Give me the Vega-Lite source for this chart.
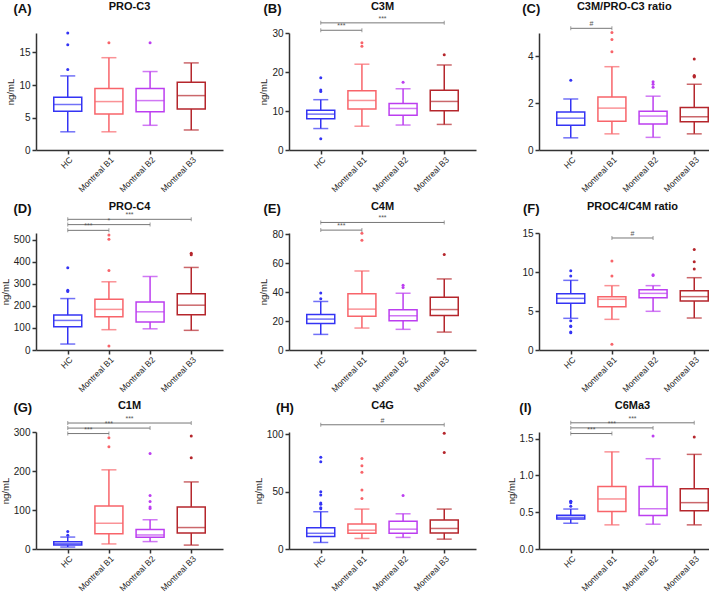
{
"$schema":"https://vega.github.io/schema/vega-lite/v6.json",
"background":"white",
"padding":{"left":0,"top":0,"right":0,"bottom":0},
"config":{"view":{"stroke":null},"range":{"category":["#3434f4","#f8646a","#bc3ef0","#b5262c"]},
"axis":{"grid":false,"labelOverlap":false,"labelFlush":false,"domainColor":"#333","domainWidth":1.5,"tickColor":"#333","tickWidth":1.5,"tickSize":4,"labelColor":"#222","labelFont":"Liberation Sans","labelFontSize":10,"labelPadding":2,"titleFont":"Liberation Sans","titleFontSize":9.5,"titleFontWeight":"normal","titleColor":"#222","titlePadding":3},
"text":{"font":"Liberation Sans"}},
"datasets":{
"box":[
{"p":"A","g":"HC","i":1,"lo":2.8,"q1":5.96,"med":7.0,"q3":8.1,"hi":11.4},
{"p":"A","g":"Montreal B1","i":2,"lo":2.8,"q1":5.55,"med":7.45,"q3":9.45,"hi":14.2},
{"p":"A","g":"Montreal B2","i":3,"lo":3.8,"q1":5.9,"med":7.6,"q3":9.45,"hi":12.07},
{"p":"A","g":"Montreal B3","i":4,"lo":3.08,"q1":6.32,"med":8.37,"q3":10.43,"hi":13.4},
{"p":"B","g":"HC","i":1,"lo":5.5,"q1":8.0,"med":9.2,"q3":10.2,"hi":12.9},
{"p":"B","g":"Montreal B1","i":2,"lo":6.1,"q1":10.5,"med":12.7,"q3":15.2,"hi":22.0},
{"p":"B","g":"Montreal B2","i":3,"lo":6.4,"q1":8.9,"med":10.65,"q3":11.9,"hi":15.7},
{"p":"B","g":"Montreal B3","i":4,"lo":6.56,"q1":10.06,"med":12.45,"q3":15.35,"hi":21.8},
{"p":"C","g":"HC","i":1,"lo":0.52,"q1":1.06,"med":1.36,"q3":1.62,"hi":2.18},
{"p":"C","g":"Montreal B1","i":2,"lo":0.69,"q1":1.23,"med":1.79,"q3":2.26,"hi":3.56},
{"p":"C","g":"Montreal B2","i":3,"lo":0.54,"q1":1.11,"med":1.45,"q3":1.66,"hi":2.3},
{"p":"C","g":"Montreal B3","i":4,"lo":0.69,"q1":1.21,"med":1.42,"q3":1.82,"hi":2.81},
{"p":"D","g":"HC","i":1,"lo":27,"q1":105,"med":134,"q3":158,"hi":233},
{"p":"D","g":"Montreal B1","i":2,"lo":92,"q1":151,"med":184,"q3":230,"hi":309},
{"p":"D","g":"Montreal B2","i":3,"lo":96,"q1":127,"med":173,"q3":218,"hi":333},
{"p":"D","g":"Montreal B3","i":4,"lo":89,"q1":160,"med":203,"q3":255,"hi":374},
{"p":"E","g":"HC","i":1,"lo":10.8,"q1":18.4,"med":21.4,"q3":24.6,"hi":33.6},
{"p":"E","g":"Montreal B1","i":2,"lo":15.2,"q1":23.4,"med":28.3,"q3":38.9,"hi":54.7},
{"p":"E","g":"Montreal B2","i":3,"lo":14.3,"q1":20.2,"med":23.7,"q3":27.8,"hi":39.3},
{"p":"E","g":"Montreal B3","i":4,"lo":12.4,"q1":23.9,"med":28.0,"q3":36.6,"hi":49.2},
{"p":"F","g":"HC","i":1,"lo":4.06,"q1":5.98,"med":6.62,"q3":7.22,"hi":8.93},
{"p":"F","g":"Montreal B1","i":2,"lo":3.93,"q1":5.56,"med":6.5,"q3":6.84,"hi":8.25},
{"p":"F","g":"Montreal B2","i":3,"lo":4.96,"q1":6.71,"med":7.26,"q3":7.74,"hi":8.25},
{"p":"F","g":"Montreal B3","i":4,"lo":4.1,"q1":6.28,"med":6.84,"q3":7.6,"hi":9.27},
{"p":"G","g":"HC","i":1,"lo":5,"q1":10.2,"med":13.6,"q3":18.7,"hi":30.6},
{"p":"G","g":"Montreal B1","i":2,"lo":13,"q1":39,"med":66,"q3":110,"hi":203},
{"p":"G","g":"Montreal B2","i":3,"lo":19,"q1":30,"med":36,"q3":50,"hi":75},
{"p":"G","g":"Montreal B3","i":4,"lo":10,"q1":41,"med":55,"q3":108,"hi":172},
{"p":"H","g":"HC","i":1,"lo":5.7,"q1":11,"med":13.7,"q3":18.5,"hi":32.5},
{"p":"H","g":"Montreal B1","i":2,"lo":9.2,"q1":13.7,"med":16.4,"q3":21.7,"hi":34.8},
{"p":"H","g":"Montreal B2","i":3,"lo":10.1,"q1":13.7,"med":17.3,"q3":24.1,"hi":30.7},
{"p":"H","g":"Montreal B3","i":4,"lo":8.6,"q1":14,"med":17.9,"q3":25.3,"hi":34.8},
{"p":"I","g":"HC","i":1,"lo":0.35,"q1":0.406,"med":0.43,"q3":0.46,"hi":0.543},
{"p":"I","g":"Montreal B1","i":2,"lo":0.328,"q1":0.51,"med":0.68,"q3":0.848,"hi":1.32},
{"p":"I","g":"Montreal B2","i":3,"lo":0.337,"q1":0.456,"med":0.547,"q3":0.848,"hi":1.227},
{"p":"I","g":"Montreal B3","i":4,"lo":0.328,"q1":0.52,"med":0.63,"q3":0.82,"hi":1.286}
],
"out":[
{"p":"A","g":"HC","i":1,"v":18.0},{"p":"A","g":"HC","i":1,"v":16.2},{"p":"A","g":"HC","i":1,"v":12.4},
{"p":"A","g":"Montreal B1","i":2,"v":16.5},{"p":"A","g":"Montreal B2","i":3,"v":16.5},
{"p":"B","g":"HC","i":1,"v":18.5},{"p":"B","g":"HC","i":1,"v":15.4},{"p":"B","g":"HC","i":1,"v":15.0},{"p":"B","g":"HC","i":1,"v":2.9},
{"p":"B","g":"Montreal B1","i":2,"v":27.5},{"p":"B","g":"Montreal B1","i":2,"v":26.6},{"p":"B","g":"Montreal B2","i":3,"v":17.4},{"p":"B","g":"Montreal B3","i":4,"v":24.4},
{"p":"C","g":"HC","i":1,"v":2.98},{"p":"C","g":"Montreal B1","i":2,"v":5.02},{"p":"C","g":"Montreal B1","i":2,"v":4.72},{"p":"C","g":"Montreal B1","i":2,"v":4.2},
{"p":"C","g":"Montreal B2","i":3,"v":2.92},{"p":"C","g":"Montreal B2","i":3,"v":2.81},{"p":"C","g":"Montreal B2","i":3,"v":2.68},
{"p":"C","g":"Montreal B3","i":4,"v":3.89},{"p":"C","g":"Montreal B3","i":4,"v":3.18},{"p":"C","g":"Montreal B3","i":4,"v":3.15},{"p":"C","g":"Montreal B3","i":4,"v":3.12},
{"p":"D","g":"HC","i":1,"v":373},{"p":"D","g":"HC","i":1,"v":271},{"p":"D","g":"HC","i":1,"v":265},
{"p":"D","g":"Montreal B1","i":2,"v":521},{"p":"D","g":"Montreal B1","i":2,"v":502},{"p":"D","g":"Montreal B1","i":2,"v":360},{"p":"D","g":"Montreal B1","i":2,"v":18},
{"p":"D","g":"Montreal B3","i":4,"v":432},{"p":"D","g":"Montreal B3","i":4,"v":438},
{"p":"E","g":"HC","i":1,"v":39.5},{"p":"E","g":"HC","i":1,"v":35.4},{"p":"E","g":"Montreal B1","i":2,"v":80.9},{"p":"E","g":"Montreal B1","i":2,"v":75.9},
{"p":"E","g":"Montreal B2","i":3,"v":44.8},{"p":"E","g":"Montreal B2","i":3,"v":43.2},{"p":"E","g":"Montreal B3","i":4,"v":66.2},
{"p":"F","g":"HC","i":1,"v":10.17},{"p":"F","g":"HC","i":1,"v":9.49},{"p":"F","g":"HC","i":1,"v":3.76},{"p":"F","g":"HC","i":1,"v":3.08},{"p":"F","g":"HC","i":1,"v":3.0},{"p":"F","g":"HC","i":1,"v":2.3},{"p":"F","g":"HC","i":1,"v":2.2},
{"p":"F","g":"Montreal B1","i":2,"v":11.4},{"p":"F","g":"Montreal B1","i":2,"v":9.49},{"p":"F","g":"Montreal B1","i":2,"v":0.73},
{"p":"F","g":"Montreal B2","i":3,"v":9.66},{"p":"F","g":"Montreal B2","i":3,"v":9.55},
{"p":"F","g":"Montreal B3","i":4,"v":12.9},{"p":"F","g":"Montreal B3","i":4,"v":11.3},{"p":"F","g":"Montreal B3","i":4,"v":10.4},
{"p":"G","g":"HC","i":1,"v":45},{"p":"G","g":"HC","i":1,"v":35},{"p":"G","g":"Montreal B1","i":2,"v":285},{"p":"G","g":"Montreal B1","i":2,"v":262},
{"p":"G","g":"Montreal B2","i":3,"v":245},{"p":"G","g":"Montreal B2","i":3,"v":137},{"p":"G","g":"Montreal B2","i":3,"v":122},{"p":"G","g":"Montreal B2","i":3,"v":108},{"p":"G","g":"Montreal B2","i":3,"v":104},
{"p":"G","g":"Montreal B3","i":4,"v":290},{"p":"G","g":"Montreal B3","i":4,"v":234},
{"p":"H","g":"HC","i":1,"v":80},{"p":"H","g":"HC","i":1,"v":76},{"p":"H","g":"HC","i":1,"v":50},{"p":"H","g":"HC","i":1,"v":47},{"p":"H","g":"HC","i":1,"v":40},{"p":"H","g":"HC","i":1,"v":39},{"p":"H","g":"HC","i":1,"v":36},{"p":"H","g":"HC","i":1,"v":35},
{"p":"H","g":"Montreal B1","i":2,"v":78.9},{"p":"H","g":"Montreal B1","i":2,"v":72.6},{"p":"H","g":"Montreal B1","i":2,"v":67},{"p":"H","g":"Montreal B1","i":2,"v":51.5},{"p":"H","g":"Montreal B1","i":2,"v":44},
{"p":"H","g":"Montreal B2","i":3,"v":46.7},{"p":"H","g":"Montreal B3","i":4,"v":100.9},{"p":"H","g":"Montreal B3","i":4,"v":84.2},
{"p":"I","g":"HC","i":1,"v":0.65},{"p":"I","g":"HC","i":1,"v":0.645},{"p":"I","g":"HC","i":1,"v":0.63},{"p":"I","g":"HC","i":1,"v":0.58},
{"p":"I","g":"Montreal B2","i":3,"v":1.537},{"p":"I","g":"Montreal B3","i":4,"v":1.523}
],
"sig":[
{"p":"B","a":1,"b":2,"y":30.7,"t":"***"},{"p":"B","a":1,"b":4,"y":32.6,"t":"***"},
{"p":"C","a":1,"b":2,"y":5.2,"t":"#"},
{"p":"D","a":1,"b":2,"y":542,"t":"***"},{"p":"D","a":1,"b":3,"y":568,"t":"*"},{"p":"D","a":1,"b":4,"y":592,"t":"***"},
{"p":"E","a":1,"b":2,"y":83,"t":"***"},{"p":"E","a":1,"b":4,"y":88.3,"t":"***"},
{"p":"F","a":2,"b":3,"y":14.36,"t":"#"},
{"p":"G","a":1,"b":2,"y":296,"t":"***"},{"p":"G","a":1,"b":3,"y":310,"t":"***"},{"p":"G","a":1,"b":4,"y":323,"t":"***"},
{"p":"H","a":1,"b":4,"y":108.3,"t":"#"},
{"p":"I","a":1,"b":2,"y":1.569,"t":"***"},{"p":"I","a":1,"b":3,"y":1.646,"t":"***"},{"p":"I","a":1,"b":4,"y":1.715,"t":"***"}
]
},
"columns":3,
"spacing":{"column":30,"row":6},
"concat":[
{"width":187,"height":117,"resolve":{"axis":{"x":"independent","y":"independent"}},"layer":[
{"data":{"name":"box"},"transform":[{"filter":"datum.p==='A'"}],"mark":{"type":"rule","strokeWidth":1.5},"encoding":{"x":{"field":"i","type":"quantitative","scale":{"domain":[0.35,4.65],"nice":false,"zero":false},"axis":{"values":[1,2,3,4],"labelExpr":"['','HC','Montreal B1','Montreal B2','Montreal B3'][datum.value]","labelAngle":-45,"labelFontSize":8.5,"labelPadding":1,"title":null}},"y":{"field":"lo","type":"quantitative","scale":{"domain":[0,18],"nice":false,"zero":false},"axis":{"values":[0,5,10,15],"title":"ng/mL"}},"y2":{"field":"hi"},"color":{"field":"g","type":"nominal","legend":null}}},
{"data":{"name":"box"},"transform":[{"filter":"datum.p==='A'"}],"mark":{"type":"bar","orient":"vertical","width":28,"fill":"white","strokeWidth":1.5},"encoding":{"x":{"field":"i","type":"quantitative","axis":null},"y":{"field":"q1","type":"quantitative","axis":null},"y2":{"field":"q3"},"stroke":{"field":"g","type":"nominal","legend":null}}},
{"data":{"name":"box"},"transform":[{"filter":"datum.p==='A'"}],"mark":{"type":"tick","orient":"horizontal","size":28,"thickness":1.5},"encoding":{"x":{"field":"i","type":"quantitative","axis":null},"y":{"field":"med","type":"quantitative","axis":null},"color":{"field":"g","type":"nominal","legend":null}}},
{"data":{"name":"box"},"transform":[{"filter":"datum.p==='A'"}],"mark":{"type":"tick","orient":"horizontal","size":15,"thickness":1.5},"encoding":{"x":{"field":"i","type":"quantitative","axis":null},"y":{"field":"lo","type":"quantitative","axis":null},"color":{"field":"g","type":"nominal","legend":null}}},
{"data":{"name":"box"},"transform":[{"filter":"datum.p==='A'"}],"mark":{"type":"tick","orient":"horizontal","size":15,"thickness":1.5},"encoding":{"x":{"field":"i","type":"quantitative","axis":null},"y":{"field":"hi","type":"quantitative","axis":null},"color":{"field":"g","type":"nominal","legend":null}}},
{"data":{"name":"out"},"transform":[{"filter":"datum.p==='A'"}],"mark":{"type":"circle","size":9,"opacity":1},"encoding":{"x":{"field":"i","type":"quantitative","axis":null},"y":{"field":"v","type":"quantitative","axis":null},"color":{"field":"g","type":"nominal","legend":null}}},
{"data":{"values":[{}]},"mark":{"type":"text","text":"PRO-C3","fontSize":11,"fontWeight":"bold","color":"#111"},"encoding":{"x":{"datum":2.5,"axis":null},"y":{"datum":22.0,"axis":null}}},
{"data":{"values":[{}]},"mark":{"type":"text","text":"(A)","fontSize":13,"fontWeight":"bold","color":"#111","align":"left"},"encoding":{"x":{"datum":-0.32,"axis":null},"y":{"datum":21.7,"axis":null}}}
]},
{"width":187,"height":117,"resolve":{"axis":{"x":"independent","y":"independent"}},"layer":[
{"data":{"name":"box"},"transform":[{"filter":"datum.p==='B'"}],"mark":{"type":"rule","strokeWidth":1.5},"encoding":{"x":{"field":"i","type":"quantitative","scale":{"domain":[0.35,4.65],"nice":false,"zero":false},"axis":{"values":[1,2,3,4],"labelExpr":"['','HC','Montreal B1','Montreal B2','Montreal B3'][datum.value]","labelAngle":-45,"labelFontSize":8.5,"labelPadding":1,"title":null}},"y":{"field":"lo","type":"quantitative","scale":{"domain":[0,30],"nice":false,"zero":false},"axis":{"values":[0,10,20,30],"title":"ng/mL"}},"y2":{"field":"hi"},"color":{"field":"g","type":"nominal","legend":null}}},
{"data":{"name":"box"},"transform":[{"filter":"datum.p==='B'"}],"mark":{"type":"bar","orient":"vertical","width":28,"fill":"white","strokeWidth":1.5},"encoding":{"x":{"field":"i","type":"quantitative","axis":null},"y":{"field":"q1","type":"quantitative","axis":null},"y2":{"field":"q3"},"stroke":{"field":"g","type":"nominal","legend":null}}},
{"data":{"name":"box"},"transform":[{"filter":"datum.p==='B'"}],"mark":{"type":"tick","orient":"horizontal","size":28,"thickness":1.5},"encoding":{"x":{"field":"i","type":"quantitative","axis":null},"y":{"field":"med","type":"quantitative","axis":null},"color":{"field":"g","type":"nominal","legend":null}}},
{"data":{"name":"box"},"transform":[{"filter":"datum.p==='B'"}],"mark":{"type":"tick","orient":"horizontal","size":15,"thickness":1.5},"encoding":{"x":{"field":"i","type":"quantitative","axis":null},"y":{"field":"lo","type":"quantitative","axis":null},"color":{"field":"g","type":"nominal","legend":null}}},
{"data":{"name":"box"},"transform":[{"filter":"datum.p==='B'"}],"mark":{"type":"tick","orient":"horizontal","size":15,"thickness":1.5},"encoding":{"x":{"field":"i","type":"quantitative","axis":null},"y":{"field":"hi","type":"quantitative","axis":null},"color":{"field":"g","type":"nominal","legend":null}}},
{"data":{"name":"out"},"transform":[{"filter":"datum.p==='B'"}],"mark":{"type":"circle","size":9,"opacity":1},"encoding":{"x":{"field":"i","type":"quantitative","axis":null},"y":{"field":"v","type":"quantitative","axis":null},"color":{"field":"g","type":"nominal","legend":null}}},
{"data":{"name":"sig"},"transform":[{"filter":"datum.p==='B'"}],"mark":{"type":"rule","color":"#777","strokeWidth":1},"encoding":{"x":{"field":"a","type":"quantitative","axis":null},"x2":{"field":"b"},"y":{"field":"y","type":"quantitative","axis":null}}},
{"data":{"name":"sig"},"transform":[{"filter":"datum.p==='B'"}],"mark":{"type":"tick","orient":"vertical","size":4,"thickness":1,"color":"#777"},"encoding":{"x":{"field":"a","type":"quantitative","axis":null},"y":{"field":"y","type":"quantitative","axis":null}}},
{"data":{"name":"sig"},"transform":[{"filter":"datum.p==='B'"}],"mark":{"type":"tick","orient":"vertical","size":4,"thickness":1,"color":"#777"},"encoding":{"x":{"field":"b","type":"quantitative","axis":null},"y":{"field":"y","type":"quantitative","axis":null}}},
{"data":{"name":"sig"},"transform":[{"filter":"datum.p==='B'"},{"calculate":"(datum.a+datum.b)/2","as":"m"}],"mark":{"type":"text","fontSize":7,"color":"#555","baseline":"bottom","dy":-1},"encoding":{"x":{"field":"m","type":"quantitative","axis":null},"y":{"field":"y","type":"quantitative","axis":null},"text":{"field":"t"}}},
{"data":{"values":[{}]},"mark":{"type":"text","text":"C3M","fontSize":11,"fontWeight":"bold","color":"#111"},"encoding":{"x":{"datum":2.5,"axis":null},"y":{"datum":36.66,"axis":null}}},
{"data":{"values":[{}]},"mark":{"type":"text","text":"(B)","fontSize":13,"fontWeight":"bold","color":"#111","align":"left"},"encoding":{"x":{"datum":-0.39,"axis":null},"y":{"datum":36.15,"axis":null}}}
]},
{"width":187,"height":117,"resolve":{"axis":{"x":"independent","y":"independent"}},"layer":[
{"data":{"name":"box"},"transform":[{"filter":"datum.p==='C'"}],"mark":{"type":"rule","strokeWidth":1.5},"encoding":{"x":{"field":"i","type":"quantitative","scale":{"domain":[0.35,4.65],"nice":false,"zero":false},"axis":{"values":[1,2,3,4],"labelExpr":"['','HC','Montreal B1','Montreal B2','Montreal B3'][datum.value]","labelAngle":-45,"labelFontSize":8.5,"labelPadding":1,"title":null}},"y":{"field":"lo","type":"quantitative","scale":{"domain":[0,5],"nice":false,"zero":false},"axis":{"values":[0,2,4],"title":null}},"y2":{"field":"hi"},"color":{"field":"g","type":"nominal","legend":null}}},
{"data":{"name":"box"},"transform":[{"filter":"datum.p==='C'"}],"mark":{"type":"bar","orient":"vertical","width":28,"fill":"white","strokeWidth":1.5},"encoding":{"x":{"field":"i","type":"quantitative","axis":null},"y":{"field":"q1","type":"quantitative","axis":null},"y2":{"field":"q3"},"stroke":{"field":"g","type":"nominal","legend":null}}},
{"data":{"name":"box"},"transform":[{"filter":"datum.p==='C'"}],"mark":{"type":"tick","orient":"horizontal","size":28,"thickness":1.5},"encoding":{"x":{"field":"i","type":"quantitative","axis":null},"y":{"field":"med","type":"quantitative","axis":null},"color":{"field":"g","type":"nominal","legend":null}}},
{"data":{"name":"box"},"transform":[{"filter":"datum.p==='C'"}],"mark":{"type":"tick","orient":"horizontal","size":15,"thickness":1.5},"encoding":{"x":{"field":"i","type":"quantitative","axis":null},"y":{"field":"lo","type":"quantitative","axis":null},"color":{"field":"g","type":"nominal","legend":null}}},
{"data":{"name":"box"},"transform":[{"filter":"datum.p==='C'"}],"mark":{"type":"tick","orient":"horizontal","size":15,"thickness":1.5},"encoding":{"x":{"field":"i","type":"quantitative","axis":null},"y":{"field":"hi","type":"quantitative","axis":null},"color":{"field":"g","type":"nominal","legend":null}}},
{"data":{"name":"out"},"transform":[{"filter":"datum.p==='C'"}],"mark":{"type":"circle","size":9,"opacity":1},"encoding":{"x":{"field":"i","type":"quantitative","axis":null},"y":{"field":"v","type":"quantitative","axis":null},"color":{"field":"g","type":"nominal","legend":null}}},
{"data":{"name":"sig"},"transform":[{"filter":"datum.p==='C'"}],"mark":{"type":"rule","color":"#777","strokeWidth":1},"encoding":{"x":{"field":"a","type":"quantitative","axis":null},"x2":{"field":"b"},"y":{"field":"y","type":"quantitative","axis":null}}},
{"data":{"name":"sig"},"transform":[{"filter":"datum.p==='C'"}],"mark":{"type":"tick","orient":"vertical","size":4,"thickness":1,"color":"#777"},"encoding":{"x":{"field":"a","type":"quantitative","axis":null},"y":{"field":"y","type":"quantitative","axis":null}}},
{"data":{"name":"sig"},"transform":[{"filter":"datum.p==='C'"}],"mark":{"type":"tick","orient":"vertical","size":4,"thickness":1,"color":"#777"},"encoding":{"x":{"field":"b","type":"quantitative","axis":null},"y":{"field":"y","type":"quantitative","axis":null}}},
{"data":{"name":"sig"},"transform":[{"filter":"datum.p==='C'"},{"calculate":"(datum.a+datum.b)/2","as":"m"}],"mark":{"type":"text","fontSize":7,"color":"#555","baseline":"bottom","dy":-1},"encoding":{"x":{"field":"m","type":"quantitative","axis":null},"y":{"field":"y","type":"quantitative","axis":null},"text":{"field":"t"}}},
{"data":{"values":[{}]},"mark":{"type":"text","text":"C3M/PRO-C3 ratio","fontSize":11,"fontWeight":"bold","color":"#111"},"encoding":{"x":{"datum":2.3,"axis":null},"y":{"datum":6.11,"axis":null}}},
{"data":{"values":[{}]},"mark":{"type":"text","text":"(C)","fontSize":13,"fontWeight":"bold","color":"#111","align":"left"},"encoding":{"x":{"datum":-0.18,"axis":null},"y":{"datum":6.03,"axis":null}}}
]},
{"width":187,"height":117,"resolve":{"axis":{"x":"independent","y":"independent"}},"layer":[
{"data":{"name":"box"},"transform":[{"filter":"datum.p==='D'"}],"mark":{"type":"rule","strokeWidth":1.5},"encoding":{"x":{"field":"i","type":"quantitative","scale":{"domain":[0.35,4.65],"nice":false,"zero":false},"axis":{"values":[1,2,3,4],"labelExpr":"['','HC','Montreal B1','Montreal B2','Montreal B3'][datum.value]","labelAngle":-45,"labelFontSize":8.5,"labelPadding":1,"title":null}},"y":{"field":"lo","type":"quantitative","scale":{"domain":[0,530],"nice":false,"zero":false},"axis":{"values":[0,100,200,300,400,500],"title":"ng/mL"}},"y2":{"field":"hi"},"color":{"field":"g","type":"nominal","legend":null}}},
{"data":{"name":"box"},"transform":[{"filter":"datum.p==='D'"}],"mark":{"type":"bar","orient":"vertical","width":28,"fill":"white","strokeWidth":1.5},"encoding":{"x":{"field":"i","type":"quantitative","axis":null},"y":{"field":"q1","type":"quantitative","axis":null},"y2":{"field":"q3"},"stroke":{"field":"g","type":"nominal","legend":null}}},
{"data":{"name":"box"},"transform":[{"filter":"datum.p==='D'"}],"mark":{"type":"tick","orient":"horizontal","size":28,"thickness":1.5},"encoding":{"x":{"field":"i","type":"quantitative","axis":null},"y":{"field":"med","type":"quantitative","axis":null},"color":{"field":"g","type":"nominal","legend":null}}},
{"data":{"name":"box"},"transform":[{"filter":"datum.p==='D'"}],"mark":{"type":"tick","orient":"horizontal","size":15,"thickness":1.5},"encoding":{"x":{"field":"i","type":"quantitative","axis":null},"y":{"field":"lo","type":"quantitative","axis":null},"color":{"field":"g","type":"nominal","legend":null}}},
{"data":{"name":"box"},"transform":[{"filter":"datum.p==='D'"}],"mark":{"type":"tick","orient":"horizontal","size":15,"thickness":1.5},"encoding":{"x":{"field":"i","type":"quantitative","axis":null},"y":{"field":"hi","type":"quantitative","axis":null},"color":{"field":"g","type":"nominal","legend":null}}},
{"data":{"name":"out"},"transform":[{"filter":"datum.p==='D'"}],"mark":{"type":"circle","size":9,"opacity":1},"encoding":{"x":{"field":"i","type":"quantitative","axis":null},"y":{"field":"v","type":"quantitative","axis":null},"color":{"field":"g","type":"nominal","legend":null}}},
{"data":{"name":"sig"},"transform":[{"filter":"datum.p==='D'"}],"mark":{"type":"rule","color":"#777","strokeWidth":1},"encoding":{"x":{"field":"a","type":"quantitative","axis":null},"x2":{"field":"b"},"y":{"field":"y","type":"quantitative","axis":null}}},
{"data":{"name":"sig"},"transform":[{"filter":"datum.p==='D'"}],"mark":{"type":"tick","orient":"vertical","size":4,"thickness":1,"color":"#777"},"encoding":{"x":{"field":"a","type":"quantitative","axis":null},"y":{"field":"y","type":"quantitative","axis":null}}},
{"data":{"name":"sig"},"transform":[{"filter":"datum.p==='D'"}],"mark":{"type":"tick","orient":"vertical","size":4,"thickness":1,"color":"#777"},"encoding":{"x":{"field":"b","type":"quantitative","axis":null},"y":{"field":"y","type":"quantitative","axis":null}}},
{"data":{"name":"sig"},"transform":[{"filter":"datum.p==='D'"},{"calculate":"(datum.a+datum.b)/2","as":"m"}],"mark":{"type":"text","fontSize":7,"color":"#555","baseline":"bottom","dy":-1},"encoding":{"x":{"field":"m","type":"quantitative","axis":null},"y":{"field":"y","type":"quantitative","axis":null},"text":{"field":"t"}}},
{"data":{"values":[{}]},"mark":{"type":"text","text":"PRO-C4","fontSize":11,"fontWeight":"bold","color":"#111"},"encoding":{"x":{"datum":2.5,"axis":null},"y":{"datum":647.7,"axis":null}}},
{"data":{"values":[{}]},"mark":{"type":"text","text":"(D)","fontSize":13,"fontWeight":"bold","color":"#111","align":"left"},"encoding":{"x":{"datum":-0.32,"axis":null},"y":{"datum":638.7,"axis":null}}}
]},
{"width":187,"height":117,"resolve":{"axis":{"x":"independent","y":"independent"}},"layer":[
{"data":{"name":"box"},"transform":[{"filter":"datum.p==='E'"}],"mark":{"type":"rule","strokeWidth":1.5},"encoding":{"x":{"field":"i","type":"quantitative","scale":{"domain":[0.35,4.65],"nice":false,"zero":false},"axis":{"values":[1,2,3,4],"labelExpr":"['','HC','Montreal B1','Montreal B2','Montreal B3'][datum.value]","labelAngle":-45,"labelFontSize":8.5,"labelPadding":1,"title":null}},"y":{"field":"lo","type":"quantitative","scale":{"domain":[0,81],"nice":false,"zero":false},"axis":{"values":[0,20,40,60,80],"title":"ng/mL"}},"y2":{"field":"hi"},"color":{"field":"g","type":"nominal","legend":null}}},
{"data":{"name":"box"},"transform":[{"filter":"datum.p==='E'"}],"mark":{"type":"bar","orient":"vertical","width":28,"fill":"white","strokeWidth":1.5},"encoding":{"x":{"field":"i","type":"quantitative","axis":null},"y":{"field":"q1","type":"quantitative","axis":null},"y2":{"field":"q3"},"stroke":{"field":"g","type":"nominal","legend":null}}},
{"data":{"name":"box"},"transform":[{"filter":"datum.p==='E'"}],"mark":{"type":"tick","orient":"horizontal","size":28,"thickness":1.5},"encoding":{"x":{"field":"i","type":"quantitative","axis":null},"y":{"field":"med","type":"quantitative","axis":null},"color":{"field":"g","type":"nominal","legend":null}}},
{"data":{"name":"box"},"transform":[{"filter":"datum.p==='E'"}],"mark":{"type":"tick","orient":"horizontal","size":15,"thickness":1.5},"encoding":{"x":{"field":"i","type":"quantitative","axis":null},"y":{"field":"lo","type":"quantitative","axis":null},"color":{"field":"g","type":"nominal","legend":null}}},
{"data":{"name":"box"},"transform":[{"filter":"datum.p==='E'"}],"mark":{"type":"tick","orient":"horizontal","size":15,"thickness":1.5},"encoding":{"x":{"field":"i","type":"quantitative","axis":null},"y":{"field":"hi","type":"quantitative","axis":null},"color":{"field":"g","type":"nominal","legend":null}}},
{"data":{"name":"out"},"transform":[{"filter":"datum.p==='E'"}],"mark":{"type":"circle","size":9,"opacity":1},"encoding":{"x":{"field":"i","type":"quantitative","axis":null},"y":{"field":"v","type":"quantitative","axis":null},"color":{"field":"g","type":"nominal","legend":null}}},
{"data":{"name":"sig"},"transform":[{"filter":"datum.p==='E'"}],"mark":{"type":"rule","color":"#777","strokeWidth":1},"encoding":{"x":{"field":"a","type":"quantitative","axis":null},"x2":{"field":"b"},"y":{"field":"y","type":"quantitative","axis":null}}},
{"data":{"name":"sig"},"transform":[{"filter":"datum.p==='E'"}],"mark":{"type":"tick","orient":"vertical","size":4,"thickness":1,"color":"#777"},"encoding":{"x":{"field":"a","type":"quantitative","axis":null},"y":{"field":"y","type":"quantitative","axis":null}}},
{"data":{"name":"sig"},"transform":[{"filter":"datum.p==='E'"}],"mark":{"type":"tick","orient":"vertical","size":4,"thickness":1,"color":"#777"},"encoding":{"x":{"field":"b","type":"quantitative","axis":null},"y":{"field":"y","type":"quantitative","axis":null}}},
{"data":{"name":"sig"},"transform":[{"filter":"datum.p==='E'"},{"calculate":"(datum.a+datum.b)/2","as":"m"}],"mark":{"type":"text","fontSize":7,"color":"#555","baseline":"bottom","dy":-1},"encoding":{"x":{"field":"m","type":"quantitative","axis":null},"y":{"field":"y","type":"quantitative","axis":null},"text":{"field":"t"}}},
{"data":{"values":[{}]},"mark":{"type":"text","text":"C4M","fontSize":11,"fontWeight":"bold","color":"#111"},"encoding":{"x":{"datum":2.5,"axis":null},"y":{"datum":99.0,"axis":null}}},
{"data":{"values":[{}]},"mark":{"type":"text","text":"(E)","fontSize":13,"fontWeight":"bold","color":"#111","align":"left"},"encoding":{"x":{"datum":-0.39,"axis":null},"y":{"datum":97.6,"axis":null}}}
]},
{"width":187,"height":117,"resolve":{"axis":{"x":"independent","y":"independent"}},"layer":[
{"data":{"name":"box"},"transform":[{"filter":"datum.p==='F'"}],"mark":{"type":"rule","strokeWidth":1.5},"encoding":{"x":{"field":"i","type":"quantitative","scale":{"domain":[0.35,4.65],"nice":false,"zero":false},"axis":{"values":[1,2,3,4],"labelExpr":"['','HC','Montreal B1','Montreal B2','Montreal B3'][datum.value]","labelAngle":-45,"labelFontSize":8.5,"labelPadding":1,"title":null}},"y":{"field":"lo","type":"quantitative","scale":{"domain":[0,15],"nice":false,"zero":false},"axis":{"values":[0,5,10,15],"title":null}},"y2":{"field":"hi"},"color":{"field":"g","type":"nominal","legend":null}}},
{"data":{"name":"box"},"transform":[{"filter":"datum.p==='F'"}],"mark":{"type":"bar","orient":"vertical","width":28,"fill":"white","strokeWidth":1.5},"encoding":{"x":{"field":"i","type":"quantitative","axis":null},"y":{"field":"q1","type":"quantitative","axis":null},"y2":{"field":"q3"},"stroke":{"field":"g","type":"nominal","legend":null}}},
{"data":{"name":"box"},"transform":[{"filter":"datum.p==='F'"}],"mark":{"type":"tick","orient":"horizontal","size":28,"thickness":1.5},"encoding":{"x":{"field":"i","type":"quantitative","axis":null},"y":{"field":"med","type":"quantitative","axis":null},"color":{"field":"g","type":"nominal","legend":null}}},
{"data":{"name":"box"},"transform":[{"filter":"datum.p==='F'"}],"mark":{"type":"tick","orient":"horizontal","size":15,"thickness":1.5},"encoding":{"x":{"field":"i","type":"quantitative","axis":null},"y":{"field":"lo","type":"quantitative","axis":null},"color":{"field":"g","type":"nominal","legend":null}}},
{"data":{"name":"box"},"transform":[{"filter":"datum.p==='F'"}],"mark":{"type":"tick","orient":"horizontal","size":15,"thickness":1.5},"encoding":{"x":{"field":"i","type":"quantitative","axis":null},"y":{"field":"hi","type":"quantitative","axis":null},"color":{"field":"g","type":"nominal","legend":null}}},
{"data":{"name":"out"},"transform":[{"filter":"datum.p==='F'"}],"mark":{"type":"circle","size":9,"opacity":1},"encoding":{"x":{"field":"i","type":"quantitative","axis":null},"y":{"field":"v","type":"quantitative","axis":null},"color":{"field":"g","type":"nominal","legend":null}}},
{"data":{"name":"sig"},"transform":[{"filter":"datum.p==='F'"}],"mark":{"type":"rule","color":"#777","strokeWidth":1},"encoding":{"x":{"field":"a","type":"quantitative","axis":null},"x2":{"field":"b"},"y":{"field":"y","type":"quantitative","axis":null}}},
{"data":{"name":"sig"},"transform":[{"filter":"datum.p==='F'"}],"mark":{"type":"tick","orient":"vertical","size":4,"thickness":1,"color":"#777"},"encoding":{"x":{"field":"a","type":"quantitative","axis":null},"y":{"field":"y","type":"quantitative","axis":null}}},
{"data":{"name":"sig"},"transform":[{"filter":"datum.p==='F'"}],"mark":{"type":"tick","orient":"vertical","size":4,"thickness":1,"color":"#777"},"encoding":{"x":{"field":"b","type":"quantitative","axis":null},"y":{"field":"y","type":"quantitative","axis":null}}},
{"data":{"name":"sig"},"transform":[{"filter":"datum.p==='F'"},{"calculate":"(datum.a+datum.b)/2","as":"m"}],"mark":{"type":"text","fontSize":7,"color":"#555","baseline":"bottom","dy":-1},"encoding":{"x":{"field":"m","type":"quantitative","axis":null},"y":{"field":"y","type":"quantitative","axis":null},"text":{"field":"t"}}},
{"data":{"values":[{}]},"mark":{"type":"text","text":"PROC4/C4M ratio","fontSize":11,"fontWeight":"bold","color":"#111"},"encoding":{"x":{"datum":2.5,"axis":null},"y":{"datum":18.33,"axis":null}}},
{"data":{"values":[{}]},"mark":{"type":"text","text":"(F)","fontSize":13,"fontWeight":"bold","color":"#111","align":"left"},"encoding":{"x":{"datum":-0.16,"axis":null},"y":{"datum":18.08,"axis":null}}}
]},
{"width":187,"height":117,"resolve":{"axis":{"x":"independent","y":"independent"}},"layer":[
{"data":{"name":"box"},"transform":[{"filter":"datum.p==='G'"}],"mark":{"type":"rule","strokeWidth":1.5},"encoding":{"x":{"field":"i","type":"quantitative","scale":{"domain":[0.35,4.65],"nice":false,"zero":false},"axis":{"values":[1,2,3,4],"labelExpr":"['','HC','Montreal B1','Montreal B2','Montreal B3'][datum.value]","labelAngle":-45,"labelFontSize":8.5,"labelPadding":1,"title":null}},"y":{"field":"lo","type":"quantitative","scale":{"domain":[0,300],"nice":false,"zero":false},"axis":{"values":[0,100,200,300],"title":"ng/mL"}},"y2":{"field":"hi"},"color":{"field":"g","type":"nominal","legend":null}}},
{"data":{"name":"box"},"transform":[{"filter":"datum.p==='G'"}],"mark":{"type":"bar","orient":"vertical","width":28,"fill":"white","strokeWidth":1.5},"encoding":{"x":{"field":"i","type":"quantitative","axis":null},"y":{"field":"q1","type":"quantitative","axis":null},"y2":{"field":"q3"},"stroke":{"field":"g","type":"nominal","legend":null}}},
{"data":{"name":"box"},"transform":[{"filter":"datum.p==='G'"}],"mark":{"type":"tick","orient":"horizontal","size":28,"thickness":1.5},"encoding":{"x":{"field":"i","type":"quantitative","axis":null},"y":{"field":"med","type":"quantitative","axis":null},"color":{"field":"g","type":"nominal","legend":null}}},
{"data":{"name":"box"},"transform":[{"filter":"datum.p==='G'"}],"mark":{"type":"tick","orient":"horizontal","size":15,"thickness":1.5},"encoding":{"x":{"field":"i","type":"quantitative","axis":null},"y":{"field":"lo","type":"quantitative","axis":null},"color":{"field":"g","type":"nominal","legend":null}}},
{"data":{"name":"box"},"transform":[{"filter":"datum.p==='G'"}],"mark":{"type":"tick","orient":"horizontal","size":15,"thickness":1.5},"encoding":{"x":{"field":"i","type":"quantitative","axis":null},"y":{"field":"hi","type":"quantitative","axis":null},"color":{"field":"g","type":"nominal","legend":null}}},
{"data":{"name":"out"},"transform":[{"filter":"datum.p==='G'"}],"mark":{"type":"circle","size":9,"opacity":1},"encoding":{"x":{"field":"i","type":"quantitative","axis":null},"y":{"field":"v","type":"quantitative","axis":null},"color":{"field":"g","type":"nominal","legend":null}}},
{"data":{"name":"sig"},"transform":[{"filter":"datum.p==='G'"}],"mark":{"type":"rule","color":"#777","strokeWidth":1},"encoding":{"x":{"field":"a","type":"quantitative","axis":null},"x2":{"field":"b"},"y":{"field":"y","type":"quantitative","axis":null}}},
{"data":{"name":"sig"},"transform":[{"filter":"datum.p==='G'"}],"mark":{"type":"tick","orient":"vertical","size":4,"thickness":1,"color":"#777"},"encoding":{"x":{"field":"a","type":"quantitative","axis":null},"y":{"field":"y","type":"quantitative","axis":null}}},
{"data":{"name":"sig"},"transform":[{"filter":"datum.p==='G'"}],"mark":{"type":"tick","orient":"vertical","size":4,"thickness":1,"color":"#777"},"encoding":{"x":{"field":"b","type":"quantitative","axis":null},"y":{"field":"y","type":"quantitative","axis":null}}},
{"data":{"name":"sig"},"transform":[{"filter":"datum.p==='G'"},{"calculate":"(datum.a+datum.b)/2","as":"m"}],"mark":{"type":"text","fontSize":7,"color":"#555","baseline":"bottom","dy":-1},"encoding":{"x":{"field":"m","type":"quantitative","axis":null},"y":{"field":"y","type":"quantitative","axis":null},"text":{"field":"t"}}},
{"data":{"values":[{}]},"mark":{"type":"text","text":"C1M","fontSize":11,"fontWeight":"bold","color":"#111"},"encoding":{"x":{"datum":2.5,"axis":null},"y":{"datum":366.6,"axis":null}}},
{"data":{"values":[{}]},"mark":{"type":"text","text":"(G)","fontSize":13,"fontWeight":"bold","color":"#111","align":"left"},"encoding":{"x":{"datum":-0.32,"axis":null},"y":{"datum":361.5,"axis":null}}}
]},
{"width":187,"height":117,"resolve":{"axis":{"x":"independent","y":"independent"}},"layer":[
{"data":{"name":"box"},"transform":[{"filter":"datum.p==='H'"}],"mark":{"type":"rule","strokeWidth":1.5},"encoding":{"x":{"field":"i","type":"quantitative","scale":{"domain":[0.35,4.65],"nice":false,"zero":false},"axis":{"values":[1,2,3,4],"labelExpr":"['','HC','Montreal B1','Montreal B2','Montreal B3'][datum.value]","labelAngle":-45,"labelFontSize":8.5,"labelPadding":1,"title":null}},"y":{"field":"lo","type":"quantitative","scale":{"domain":[0,102],"nice":false,"zero":false},"axis":{"values":[0,50,100],"title":"ng/mL"}},"y2":{"field":"hi"},"color":{"field":"g","type":"nominal","legend":null}}},
{"data":{"name":"box"},"transform":[{"filter":"datum.p==='H'"}],"mark":{"type":"bar","orient":"vertical","width":28,"fill":"white","strokeWidth":1.5},"encoding":{"x":{"field":"i","type":"quantitative","axis":null},"y":{"field":"q1","type":"quantitative","axis":null},"y2":{"field":"q3"},"stroke":{"field":"g","type":"nominal","legend":null}}},
{"data":{"name":"box"},"transform":[{"filter":"datum.p==='H'"}],"mark":{"type":"tick","orient":"horizontal","size":28,"thickness":1.5},"encoding":{"x":{"field":"i","type":"quantitative","axis":null},"y":{"field":"med","type":"quantitative","axis":null},"color":{"field":"g","type":"nominal","legend":null}}},
{"data":{"name":"box"},"transform":[{"filter":"datum.p==='H'"}],"mark":{"type":"tick","orient":"horizontal","size":15,"thickness":1.5},"encoding":{"x":{"field":"i","type":"quantitative","axis":null},"y":{"field":"lo","type":"quantitative","axis":null},"color":{"field":"g","type":"nominal","legend":null}}},
{"data":{"name":"box"},"transform":[{"filter":"datum.p==='H'"}],"mark":{"type":"tick","orient":"horizontal","size":15,"thickness":1.5},"encoding":{"x":{"field":"i","type":"quantitative","axis":null},"y":{"field":"hi","type":"quantitative","axis":null},"color":{"field":"g","type":"nominal","legend":null}}},
{"data":{"name":"out"},"transform":[{"filter":"datum.p==='H'"}],"mark":{"type":"circle","size":9,"opacity":1},"encoding":{"x":{"field":"i","type":"quantitative","axis":null},"y":{"field":"v","type":"quantitative","axis":null},"color":{"field":"g","type":"nominal","legend":null}}},
{"data":{"name":"sig"},"transform":[{"filter":"datum.p==='H'"}],"mark":{"type":"rule","color":"#777","strokeWidth":1},"encoding":{"x":{"field":"a","type":"quantitative","axis":null},"x2":{"field":"b"},"y":{"field":"y","type":"quantitative","axis":null}}},
{"data":{"name":"sig"},"transform":[{"filter":"datum.p==='H'"}],"mark":{"type":"tick","orient":"vertical","size":4,"thickness":1,"color":"#777"},"encoding":{"x":{"field":"a","type":"quantitative","axis":null},"y":{"field":"y","type":"quantitative","axis":null}}},
{"data":{"name":"sig"},"transform":[{"filter":"datum.p==='H'"}],"mark":{"type":"tick","orient":"vertical","size":4,"thickness":1,"color":"#777"},"encoding":{"x":{"field":"b","type":"quantitative","axis":null},"y":{"field":"y","type":"quantitative","axis":null}}},
{"data":{"name":"sig"},"transform":[{"filter":"datum.p==='H'"},{"calculate":"(datum.a+datum.b)/2","as":"m"}],"mark":{"type":"text","fontSize":7,"color":"#555","baseline":"bottom","dy":-1},"encoding":{"x":{"field":"m","type":"quantitative","axis":null},"y":{"field":"y","type":"quantitative","axis":null},"text":{"field":"t"}}},
{"data":{"values":[{}]},"mark":{"type":"text","text":"C4G","fontSize":11,"fontWeight":"bold","color":"#111"},"encoding":{"x":{"datum":2.5,"axis":null},"y":{"datum":124.6,"axis":null}}},
{"data":{"values":[{}]},"mark":{"type":"text","text":"(H)","fontSize":13,"fontWeight":"bold","color":"#111","align":"left"},"encoding":{"x":{"datum":-0.09,"axis":null},"y":{"datum":122.9,"axis":null}}}
]},
{"width":187,"height":117,"resolve":{"axis":{"x":"independent","y":"independent"}},"layer":[
{"data":{"name":"box"},"transform":[{"filter":"datum.p==='I'"}],"mark":{"type":"rule","strokeWidth":1.5},"encoding":{"x":{"field":"i","type":"quantitative","scale":{"domain":[0.35,4.65],"nice":false,"zero":false},"axis":{"values":[1,2,3,4],"labelExpr":"['','HC','Montreal B1','Montreal B2','Montreal B3'][datum.value]","labelAngle":-45,"labelFontSize":8.5,"labelPadding":1,"title":null}},"y":{"field":"lo","type":"quantitative","scale":{"domain":[0,1.59],"nice":false,"zero":false},"axis":{"values":[0,0.5,1,1.5],"format":".1f","title":"ng/mL"}},"y2":{"field":"hi"},"color":{"field":"g","type":"nominal","legend":null}}},
{"data":{"name":"box"},"transform":[{"filter":"datum.p==='I'"}],"mark":{"type":"bar","orient":"vertical","width":28,"fill":"white","strokeWidth":1.5},"encoding":{"x":{"field":"i","type":"quantitative","axis":null},"y":{"field":"q1","type":"quantitative","axis":null},"y2":{"field":"q3"},"stroke":{"field":"g","type":"nominal","legend":null}}},
{"data":{"name":"box"},"transform":[{"filter":"datum.p==='I'"}],"mark":{"type":"tick","orient":"horizontal","size":28,"thickness":1.5},"encoding":{"x":{"field":"i","type":"quantitative","axis":null},"y":{"field":"med","type":"quantitative","axis":null},"color":{"field":"g","type":"nominal","legend":null}}},
{"data":{"name":"box"},"transform":[{"filter":"datum.p==='I'"}],"mark":{"type":"tick","orient":"horizontal","size":15,"thickness":1.5},"encoding":{"x":{"field":"i","type":"quantitative","axis":null},"y":{"field":"lo","type":"quantitative","axis":null},"color":{"field":"g","type":"nominal","legend":null}}},
{"data":{"name":"box"},"transform":[{"filter":"datum.p==='I'"}],"mark":{"type":"tick","orient":"horizontal","size":15,"thickness":1.5},"encoding":{"x":{"field":"i","type":"quantitative","axis":null},"y":{"field":"hi","type":"quantitative","axis":null},"color":{"field":"g","type":"nominal","legend":null}}},
{"data":{"name":"out"},"transform":[{"filter":"datum.p==='I'"}],"mark":{"type":"circle","size":9,"opacity":1},"encoding":{"x":{"field":"i","type":"quantitative","axis":null},"y":{"field":"v","type":"quantitative","axis":null},"color":{"field":"g","type":"nominal","legend":null}}},
{"data":{"name":"sig"},"transform":[{"filter":"datum.p==='I'"}],"mark":{"type":"rule","color":"#777","strokeWidth":1},"encoding":{"x":{"field":"a","type":"quantitative","axis":null},"x2":{"field":"b"},"y":{"field":"y","type":"quantitative","axis":null}}},
{"data":{"name":"sig"},"transform":[{"filter":"datum.p==='I'"}],"mark":{"type":"tick","orient":"vertical","size":4,"thickness":1,"color":"#777"},"encoding":{"x":{"field":"a","type":"quantitative","axis":null},"y":{"field":"y","type":"quantitative","axis":null}}},
{"data":{"name":"sig"},"transform":[{"filter":"datum.p==='I'"}],"mark":{"type":"tick","orient":"vertical","size":4,"thickness":1,"color":"#777"},"encoding":{"x":{"field":"b","type":"quantitative","axis":null},"y":{"field":"y","type":"quantitative","axis":null}}},
{"data":{"name":"sig"},"transform":[{"filter":"datum.p==='I'"},{"calculate":"(datum.a+datum.b)/2","as":"m"}],"mark":{"type":"text","fontSize":7,"color":"#555","baseline":"bottom","dy":-1},"encoding":{"x":{"field":"m","type":"quantitative","axis":null},"y":{"field":"y","type":"quantitative","axis":null},"text":{"field":"t"}}},
{"data":{"values":[{}]},"mark":{"type":"text","text":"C6Ma3","fontSize":11,"fontWeight":"bold","color":"#111"},"encoding":{"x":{"datum":2.5,"axis":null},"y":{"datum":1.943,"axis":null}}},
{"data":{"values":[{}]},"mark":{"type":"text","text":"(I)","fontSize":13,"fontWeight":"bold","color":"#111","align":"left"},"encoding":{"x":{"datum":-0.25,"axis":null},"y":{"datum":1.916,"axis":null}}}
]}
]
}
